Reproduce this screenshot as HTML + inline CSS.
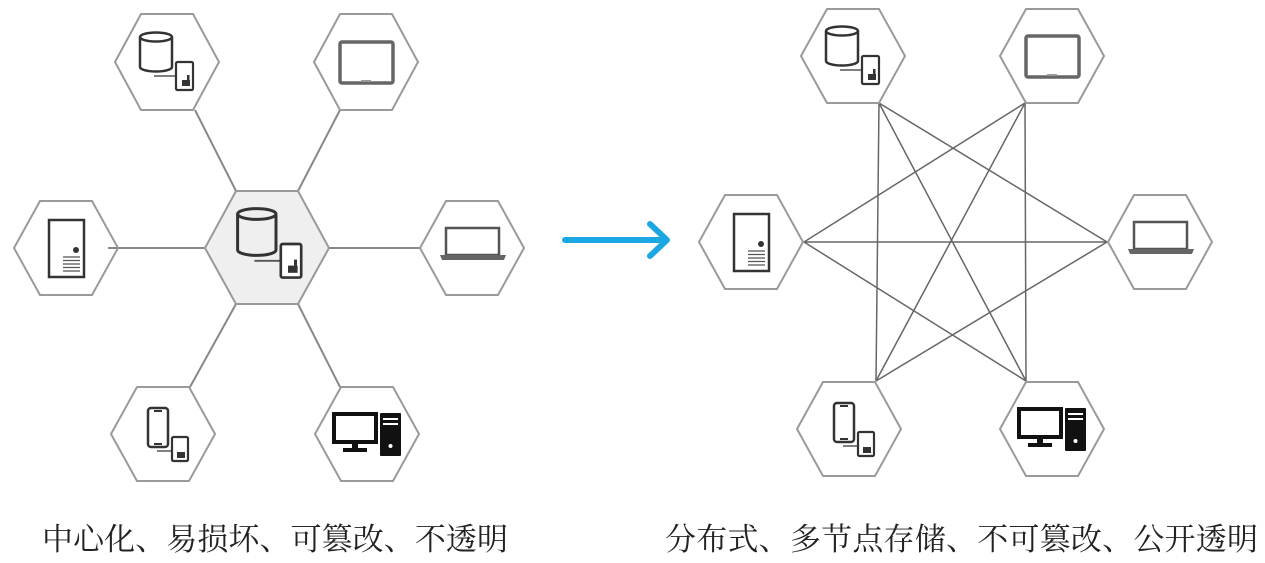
<!DOCTYPE html>
<html><head><meta charset="utf-8"><style>
html,body{margin:0;padding:0;background:#fff;}
svg{display:block;}
</style></head><body>
<svg width="1265" height="563" viewBox="0 0 1265 563" xmlns="http://www.w3.org/2000/svg">
<defs>
<symbol id="hex" viewBox="-53 -48 106 96" overflow="visible"><polygon points="-52,0 -26,-47 26,-47 52,0 26,47 -26,47" fill="#fff" stroke="#9a9a9a" stroke-width="2"/></symbol>
<g id="db">
  <path d="M-27,-25 v30 a16,4.5 0 0 0 32,0 v-30" fill="none" stroke="#333" stroke-width="2.5"/>
  <ellipse cx="-11" cy="-25" rx="16" ry="4.5" fill="none" stroke="#333" stroke-width="2.5"/>
  <line x1="-13" y1="14" x2="9" y2="14" stroke="#555" stroke-width="1.5"/>
  <rect x="9" y="0" width="17" height="28" rx="1.5" fill="#fff" stroke="#333" stroke-width="2.2"/>
  <rect x="15" y="18" width="8" height="6" fill="#333"/><rect x="20" y="13" width="2.5" height="5" fill="#333"/>
</g>
<g id="tablet"><rect x="-26" y="-20" width="53" height="41" rx="2" fill="none" stroke="#666" stroke-width="3.5"/><rect x="-5" y="18" width="10" height="2" fill="#999"/></g>
<g id="server"><rect x="-17" y="-28" width="35" height="57" fill="none" stroke="#333" stroke-width="2.5"/><circle cx="10" cy="2" r="3" fill="#333"/>
<g stroke="#555" stroke-width="1.3"><line x1="-3" y1="9" x2="14" y2="9"/><line x1="-3" y1="12.5" x2="14" y2="12.5"/><line x1="-3" y1="16" x2="14" y2="16"/><line x1="-3" y1="19.5" x2="14" y2="19.5"/><line x1="-3" y1="23" x2="14" y2="23"/></g></g>
<g id="laptop"><rect x="-26" y="-20" width="53" height="27" fill="none" stroke="#555" stroke-width="2.5"/><path d="M-32,7 h66 l-2,5 h-62 z" fill="#666"/></g>
<g id="phones"><rect x="-15" y="-26" width="20" height="39" rx="3" fill="none" stroke="#333" stroke-width="2.5"/><line x1="-9" y1="-23" x2="-1" y2="-23" stroke="#333" stroke-width="2"/><line x1="-9" y1="10" x2="-1" y2="10" stroke="#333" stroke-width="2"/>
<line x1="-6" y1="17" x2="9" y2="17" stroke="#555" stroke-width="1.5"/>
<rect x="9" y="3" width="16" height="24" rx="1.5" fill="#fff" stroke="#333" stroke-width="2.2"/><rect x="14" y="18" width="8" height="6" fill="#333"/></g>
<g id="desktop"><rect x="-33" y="-20" width="42" height="28" fill="none" stroke="#111" stroke-width="4"/><rect x="-15" y="8" width="6" height="7" fill="#111"/><rect x="-24" y="14" width="24" height="4" fill="#111"/>
<rect x="13" y="-21" width="21" height="43" rx="1" fill="#111"/><rect x="16" y="-16" width="15" height="2" fill="#fff"/><rect x="16" y="-11" width="15" height="2" fill="#fff"/><circle cx="23.5" cy="12" r="2" fill="#fff"/></g>
</defs>

<!-- LEFT DIAGRAM -->
<g stroke="#888" stroke-width="2" fill="none">
<line x1="195" y1="110" x2="236" y2="191"/><line x1="340" y1="110" x2="298" y2="191"/>
<line x1="108" y1="248" x2="205" y2="248"/><line x1="328" y1="248" x2="420" y2="248"/>
<line x1="236" y1="304" x2="190" y2="387"/><line x1="298" y1="304" x2="340" y2="387"/>
</g>
<polygon points="115,62 141,14 193,14 219,62 193,110 141,110" fill="#fff" stroke="#9a9a9a" stroke-width="2"/>
<polygon points="314,62 340,14 392,14 418,62 392,110 340,110" fill="#fff" stroke="#9a9a9a" stroke-width="2"/>
<polygon points="14,248 40,201 92,201 118,248 92,295 40,295" fill="#fff" stroke="#9a9a9a" stroke-width="2"/>
<polygon points="420,248 446,201 498,201 524,248 498,295 446,295" fill="#fff" stroke="#9a9a9a" stroke-width="2"/>
<polygon points="111,434 137,387 189,387 215,434 189,481 137,481" fill="#fff" stroke="#9a9a9a" stroke-width="2"/>
<polygon points="315,434 341,387 393,387 419,434 393,481 341,481" fill="#fff" stroke="#9a9a9a" stroke-width="2"/>
<polygon points="205,248 236,191 298,191 329,248 298,304 236,304" fill="#efefef" stroke="#999" stroke-width="2"/>
<line x1="108" y1="248" x2="118" y2="248" stroke="#888" stroke-width="2"/>
<use href="#db" transform="translate(167,62)"/>
<use href="#tablet" transform="translate(366,62)"/>
<use href="#server" transform="translate(66,248)"/>
<use href="#laptop" transform="translate(472,248)"/>
<use href="#phones" transform="translate(163,434)"/>
<use href="#desktop" transform="translate(367,434)"/>
<use href="#db" transform="translate(270,244) scale(1.2)"/>

<!-- ARROW -->
<g stroke="#1ba7e3" stroke-width="6" stroke-linecap="round" stroke-linejoin="round" fill="none">
<line x1="565" y1="240" x2="666" y2="240"/><polyline points="650,224 667,240 650,256"/>
</g>

<!-- RIGHT DIAGRAM -->
<g stroke="#666" stroke-width="1.5" fill="none">
<line x1="879" y1="103" x2="876" y2="381"/><line x1="879" y1="103" x2="1107" y2="242"/><line x1="879" y1="103" x2="1026" y2="381"/>
<line x1="1025" y1="103" x2="804" y2="242"/><line x1="1025" y1="103" x2="876" y2="381"/><line x1="1025" y1="103" x2="1026" y2="381"/>
<line x1="804" y1="242" x2="1107" y2="242"/><line x1="804" y1="242" x2="1026" y2="381"/><line x1="876" y1="381" x2="1107" y2="242"/>
</g>
<polygon points="801,56 827,9 879,9 905,56 879,103 827,103" fill="#fff" stroke="#9a9a9a" stroke-width="2"/>
<polygon points="1000,56 1026,9 1078,9 1104,56 1078,103 1026,103" fill="#fff" stroke="#9a9a9a" stroke-width="2"/>
<polygon points="699,242 725,195 777,195 803,242 777,289 725,289" fill="#fff" stroke="#9a9a9a" stroke-width="2"/>
<polygon points="1108,242 1134,195 1186,195 1212,242 1186,289 1134,289" fill="#fff" stroke="#9a9a9a" stroke-width="2"/>
<polygon points="797,429 823,382 875,382 901,429 875,476 823,476" fill="#fff" stroke="#9a9a9a" stroke-width="2"/>
<polygon points="1000,429 1026,382 1078,382 1104,429 1078,476 1026,476" fill="#fff" stroke="#9a9a9a" stroke-width="2"/>
<use href="#db" transform="translate(853,56)"/>
<use href="#tablet" transform="translate(1052,56)"/>
<use href="#server" transform="translate(751,242)"/>
<use href="#laptop" transform="translate(1160,242)"/>
<use href="#phones" transform="translate(849,429)"/>
<use href="#desktop" transform="translate(1052,429)"/>

<!-- TEXT -->
<g font-family="'Liberation Serif','Noto Serif CJK SC',serif" font-size="31" fill="#222">
<text x="42" y="550" textLength="466" lengthAdjust="spacing">中心化、易损坏、可篡改、不透明</text>
<text x="665" y="550" textLength="593" lengthAdjust="spacing">分布式、多节点存储、不可篡改、公开透明</text>
</g>
</svg>
</body></html>
